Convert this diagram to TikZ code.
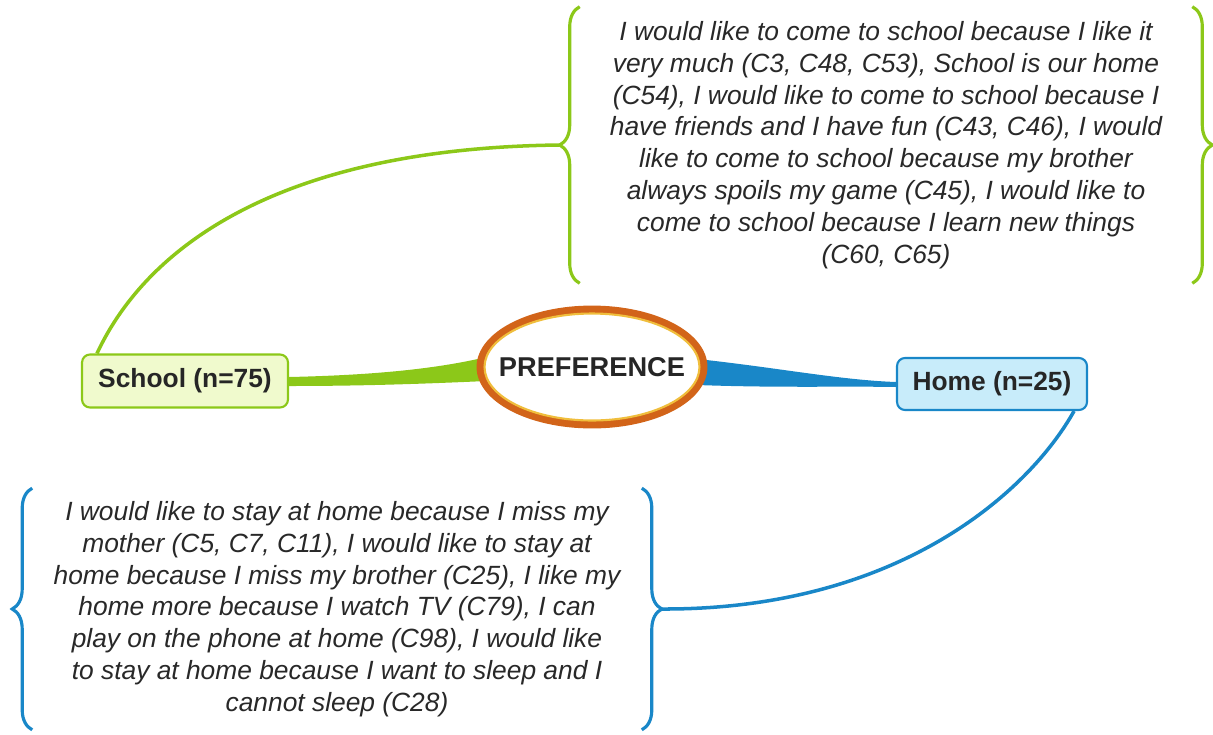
\documentclass[tikz,border=0pt]{standalone}
\usepackage{fontspec}
\setmainfont{Liberation Sans}
\usetikzlibrary{calc,backgrounds,shapes.geometric,decorations.pathreplacing}
\definecolor{leafgreen}{RGB}{140,200,25}
\definecolor{schoolfill}{RGB}{240,250,205}
\definecolor{skyblue}{RGB}{25,135,200}
\definecolor{homefill}{RGB}{200,236,250}
\definecolor{ringorange}{RGB}{210,100,25}
\definecolor{ringgold}{RGB}{240,190,60}
\definecolor{notegray}{RGB}{40,40,40}

\begin{document}
\begin{tikzpicture}[x=0.02cm,y=-0.02cm,
    branch/.style={rounded corners=0.16cm,line width=1.2pt,inner sep=0pt,
      text=black!85,font=\fontsize{15}{18}\selectfont\bfseries},
    note/.style={align=center,inner sep=0pt,text=notegray,
      font=\fontsize{15}{18.1}\selectfont\itshape},
    bracket/.style={decorate,decoration={brace,amplitude=0.4cm},line width=1.8pt}]
    \useasboundingbox (0,0) rectangle (1213,734);
      % centre and branches
      \node[shape=ellipse,draw=ringorange,line width=4.5pt,fill=white,inner sep=0pt,minimum width=4.46cm,minimum height=2.3cm,
        label={[text=black!85,font=\fontsize{15.5}{18}\selectfont\bfseries]center:PREFERENCE}] (pref) at (592,367) {};
      \draw[ringgold,line width=1.2pt] (pref.center) ellipse [x radius=2.15cm,y radius=1.07cm];
      \node[branch,draw=leafgreen,fill=schoolfill,minimum width=4.12cm,minimum height=1.06cm] (school) at (185,381) {School (n=75)};
      \node[branch,draw=skyblue,fill=homefill,minimum width=3.8cm,minimum height=1.04cm] (home) at (992,384) {Home (n=25)};
      % notes
      \node[note,minimum width=12.24cm,minimum height=5.52cm] (schoolnote) at (886,145)
        {I would like to come to school because I like it\\
         very much (C3, C48, C53), School is our home\\
         (C54), I would like to come to school because I\\
         have friends and I have fun (C43, C46), I would\\
         like to come to school because my brother\\
         always spoils my game (C45), I would like to\\
         come to school because I learn new things\\
         (C60, C65)};
      \node[note,minimum width=12.18cm,minimum height=4.82cm] (homenote) at (337,609)
        {I would like to stay at home because I miss my\\
         mother (C5, C7, C11), I would like to stay at\\
         home because I miss my brother (C25), I like my\\
         home more because I watch TV (C79), I can\\
         play on the phone at home (C98), I would like\\
         to stay at home because I want to sleep and I\\
         cannot sleep (C28)};
      \coordinate (schooltip) at ($(schoolnote.west)+(-0.4cm,0)$);
      \coordinate (hometip) at ($(homenote.east)+(0.4cm,0)$);
      % braces
      \draw[bracket,leafgreen] (schoolnote.south west) -- (schoolnote.north west);
      \draw[bracket,leafgreen] (schoolnote.north east) -- (schoolnote.south east);
      \draw[bracket,skyblue] (homenote.south west) -- (homenote.north west);
      \draw[bracket,skyblue] (homenote.north east) -- (homenote.south east);
      % connectors
      \draw[leafgreen,line width=2pt] ($(school.north west)+(16,0)$) .. controls (150,240) and (290,148) .. (schooltip);
      \draw[skyblue,line width=2pt] ($(home.south east)+(-14,0)$) .. controls (1030,490) and (900,610) .. (hometip);
      \begin{scope}[on background layer]
        \fill[leafgreen] ($(school.east)+(0,-4)$) .. controls (380,375) and (440,368) .. ($(pref.west)+(10,-10)$)
          -- ($(pref.west)+(10,14)$) .. controls (420,384) and (360,386) .. ($(school.east)+(0,5)$) -- cycle;
        \fill[skyblue] ($(pref.east)+(-10,-8)$) .. controls (780,368) and (840,380) .. ($(home.west)+(0,-2)$)
          -- ($(home.west)+(0,3)$) .. controls (840,386) and (780,388) .. ($(pref.east)+(-10,18)$) -- cycle;
      \end{scope}
\end{tikzpicture}
\end{document}
